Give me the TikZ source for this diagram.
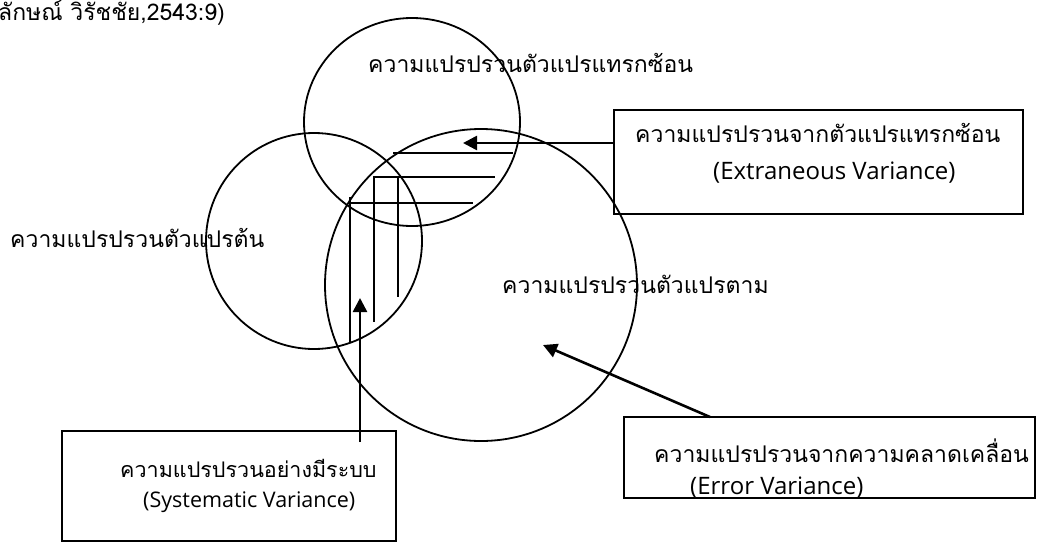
\documentclass[tikz,border=0pt]{standalone}
\usepackage{fontspec}
\setmainfont{Open Sans}
\newfontfamily\thaifont[Script=Thai]{Loma}
\usetikzlibrary{arrows.meta}

\begin{document}
\begin{tikzpicture}[x=1pt,y=-1pt,
  lbl/.style={font=\thaifont\fontsize{23}{25}\selectfont, inner sep=0pt, anchor=west},
  eng/.style={font=\fontsize{24}{26}\selectfont, inner sep=0pt, anchor=west},
  varbox/.style={draw, line width=1.8pt, inner sep=0pt},
  pointer/.style={line width=2.6pt, -{Triangle[length=14pt,width=14pt]}}]
  \useasboundingbox (0,0) rectangle (1038,549);

  % the three circles
  \draw[line width=1.8pt] (412,122) ellipse (108 and 104);
  \draw[line width=1.8pt] (314,241) circle (108);
  \draw[line width=1.8pt] (481,285) circle (156);

  % shared part
  \draw[line width=1.8pt] (393,153) -- (513,153);
  \draw[line width=1.8pt] (373,177) -- (495,177);
  \draw[line width=1.8pt] (349,203) -- (473,203);
  \draw[line width=1.8pt] (350,197) -- (350,342);
  \draw[line width=1.8pt] (374,177) -- (374,322);
  \draw[line width=1.8pt] (398,177) -- (398,297);

  % labels
  \node[lbl] (src) at (-2,13) {ลักษณ์ วิรัชชัย,2543:9)};
  \node[lbl] (extlbl) at (368,63) {ความแปรปรวนตัวแปรแทรกซ้อน};
  \node[lbl] (indlbl) at (10,238) {ความแปรปรวนตัวแปรต้น};
  \node[lbl] (deplbl) at (502,284) {ความแปรปรวนตัวแปรตาม};

  % boxes
  \node[varbox, minimum width=409pt, minimum height=104pt] (extbox) at (818.5,162) {};
  \node[varbox, minimum width=334pt, minimum height=110pt] (sysbox) at (229,486) {};
  \node[varbox, minimum width=411pt, minimum height=81pt] (errbox) at (829.5,457.5) {};

  \node[lbl] (ext1) at (635,133) {ความแปรปรวนจากตัวแปรแทรกซ้อน};
  \node[eng] (ext2) at (713,173) {(Extraneous Variance)};
  \node[lbl, font=\thaifont\fontsize{21.5}{24}\selectfont] (sys1) at (120,468) {ความแปรปรวนอย่างมีระบบ};
  \node[eng, font=\fontsize{21.5}{24}\selectfont] (sys2) at (143,502) {(Systematic Variance)};
  \node[lbl] (err1) at (654,451) {ความแปรปรวนจากความคลาดเคลื่อน};
  \node[eng] (err2) at (690,488) {(Error Variance)};

  % pointers
  \coordinate (extfrom) at (614,143);
  \coordinate (extto) at (463,143);
  \coordinate (sysfrom) at (360,442);
  \coordinate (systo) at (360,298);
  \coordinate (errfrom) at (710,417);
  \coordinate (errto) at (543,345);
  \draw[pointer] (extfrom) -- (extto);
  \draw[pointer] (sysfrom) -- (systo);
  \draw[pointer] (errfrom) -- (errto);
\end{tikzpicture}
\end{document}
